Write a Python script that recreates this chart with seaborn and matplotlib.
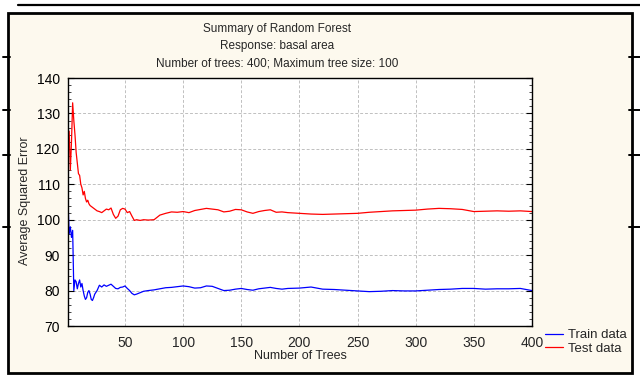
import matplotlib
matplotlib.use("Agg")
import matplotlib.pyplot as plt
import seaborn as sns
from matplotlib.patches import Rectangle
from matplotlib.lines import Line2D
from matplotlib.ticker import MultipleLocator

# values
train_trees = [1, 2, 3, 4, 5, 6, 7, 8, 9, 10, 11, 12, 13, 14, 15, 16, 17, 18, 19, 20,
               21, 22, 23, 24, 26, 28, 30, 32, 34, 36, 38, 40, 42, 44, 46, 48, 50, 52,
               54, 56, 58, 60, 63, 66, 70, 75, 80, 85, 90, 95, 100, 105, 110, 115, 120,
               125, 130, 135, 140, 145, 150, 155, 160, 165, 170, 175, 180, 185, 190, 200,
               210, 220, 230, 240, 250, 260, 270, 280, 290, 300, 310, 320, 330, 340, 350,
               360, 370, 380, 390, 400]
train_err = [105, 96, 98, 95, 97, 80, 83, 82.5, 80.5, 82, 83, 81, 82, 80, 78.5, 77.5, 78,
             79.5, 80, 79, 77.5, 77.2, 78, 79, 80, 81.5, 81, 81.6, 81.2, 81.5, 81.8, 81.2,
             80.6, 80.5, 80.9, 81, 81.3, 80.6, 80, 79.2, 78.8, 79, 79.4, 79.8, 80, 80.2,
             80.5, 80.8, 80.9, 81.1, 81.3, 81.1, 80.7, 80.8, 81.3, 81.2, 80.6, 80, 80.1,
             80.4, 80.6, 80.3, 80.1, 80.5, 80.7, 80.9, 80.6, 80.4, 80.6, 80.7, 81, 80.4,
             80.3, 80.1, 79.9, 79.7, 79.8, 80, 79.9, 79.9, 80.1, 80.3, 80.4, 80.6, 80.6,
             80.4, 80.5, 80.5, 80.6, 80.0]

test_trees = [1, 2, 3, 4, 5, 6, 7, 8, 9, 10, 11, 12, 13, 14, 15, 16, 17, 18, 19, 20, 22,
              24, 26, 28, 30, 32, 34, 36, 38, 40, 42, 44, 46, 48, 50, 52, 54, 56, 58, 60,
              63, 66, 70, 75, 80, 85, 90, 95, 100, 105, 110, 115, 120, 125, 130, 135, 140,
              145, 150, 155, 160, 165, 170, 175, 180, 185, 190, 200, 210, 220, 230, 240,
              250, 260, 270, 280, 290, 300, 310, 320, 330, 340, 350, 360, 370, 380, 390, 400]
test_err = [118, 125, 114, 122, 133, 128, 124, 119, 116, 113, 112.5, 110, 109, 107, 108,
            106, 105, 105.5, 104.5, 104, 103.5, 103, 102.5, 102.3, 102, 102.5, 103, 102.8,
            103.3, 101.5, 100.4, 101, 102.8, 103.2, 103, 102, 102.3, 101, 99.8, 100, 99.8,
            100, 99.9, 100, 101.3, 101.8, 102.2, 102.1, 102.3, 102, 102.6, 102.9, 103.2,
            103, 102.8, 102.2, 102.4, 102.9, 102.8, 102.2, 101.8, 102.3, 102.6, 102.8,
            102.1, 102.2, 102, 101.8, 101.6, 101.5, 101.6, 101.7, 101.8, 102.1, 102.3,
            102.5, 102.6, 102.7, 103, 103.2, 103.1, 102.9, 102.3, 102.4, 102.5, 102.4,
            102.5, 102.3]

title_lines = ["Summary of Random Forest", "Response: basal area",
               "Number of trees: 400; Maximum tree size: 100"]

sns.set_style("white")
plt.rcParams['font.family'] = ['Liberation Sans', 'DejaVu Sans']

fig = plt.figure(figsize=(6.4, 3.75), dpi=100)
W, H = 640.0, 375.0

# cream panel with black frame, like the screenshot
fig.patches.append(Rectangle((8 / W, 1 - 373 / H), 624 / W, 360 / H, transform=fig.transFigure,
                             facecolor="#fdf9ee", edgecolor="black", linewidth=2.0, zorder=-5))
fig.lines.append(Line2D([18 / W, 1], [1 - 5 / H, 1 - 5 / H], transform=fig.transFigure,
                        color="black", linewidth=1.6))
for yy in [57, 110, 155, 227]:
    fig.lines.append(Line2D([3 / W, 10 / W], [1 - yy / H] * 2, transform=fig.transFigure,
                            color="black", linewidth=1.4))
    fig.lines.append(Line2D([629 / W, 1], [1 - yy / H] * 2, transform=fig.transFigure,
                            color="black", linewidth=1.4))

ax = fig.add_axes([68 / W, 1 - 326 / H, 464 / W, 248 / H])
ax.set_zorder(2)
ax.set_facecolor("white")

sns.lineplot(x=train_trees, y=train_err, ax=ax, color="#0000ff", linewidth=0.9, label="Train data")
sns.lineplot(x=test_trees, y=test_err, ax=ax, color="#ff0000", linewidth=0.9, label="Test data")

ax.set_xlim(1, 400)
ax.set_ylim(70, 140)
ax.set_xticks([50, 100, 150, 200, 250, 300, 350, 400])
ax.yaxis.set_major_locator(MultipleLocator(10))
ax.yaxis.set_minor_locator(MultipleLocator(2))
ax.tick_params(axis="y", which="major", direction="in", length=4, width=0.8,
               left=True, right=True, labelsize=10, pad=6, colors="black")
ax.tick_params(axis="y", which="minor", direction="in", length=2.5, width=0.6,
               left=True, right=True)
ax.tick_params(axis="x", length=0, labelsize=10, pad=7)
for s in ax.spines.values():
    s.set_color("black")
    s.set_linewidth(1.0)

ax.grid(True, which="major", color="#c0c0c0", linestyle=(0, (3, 2)), linewidth=0.7)
ax.set_xlabel("")
ax.set_ylabel("")

fig.text(300 / W, 1 - 356 / H, "Number of Trees", ha="center", va="center", fontsize=9)
fig.text(25 / W, 1 - 201 / H, "Average Squared Error", ha="center", va="center",
         rotation=90, fontsize=9)
for txt, yy in zip(title_lines, [29, 46, 63]):
    fig.text(277 / W, 1 - yy / H, txt, ha="center", va="center", fontsize=8.5)

ax.legend(loc="upper left", bbox_to_anchor=((545 - 68) / 464, -0.012), frameon=False,
          fontsize=9.5, handlelength=1.4, handletextpad=0.35, labelspacing=0.1,
          borderpad=0, borderaxespad=0)

fig.savefig("out.png", dpi=100, facecolor="white")
